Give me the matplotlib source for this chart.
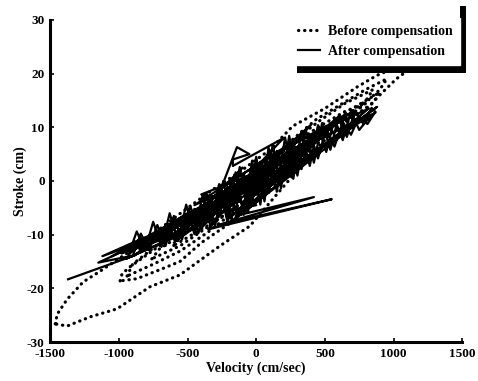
import matplotlib
matplotlib.use("Agg")
import matplotlib.pyplot as plt
from matplotlib.patches import Rectangle
from matplotlib.transforms import IdentityTransform

plt.rcParams['font.family'] = ['Liberation Serif', 'DejaVu Serif']
plt.rcParams['font.weight'] = 'bold'
plt.rcParams['axes.unicode_minus'] = False

# before compensation: several closed loops (velocity cm/sec, stroke cm)
loop1_v = [-1463, -1449, -1376, -1260, -1137, -897, -701, -556, -310, -115, 100, 265, 500, 735, 874, 1050, 1150,
           1100, 1020, 900, 825, 700, 550, 300, 100, -47, -265, -556, -774, -1013, -1209, -1376, -1463]
loop1_s = [-26.6, -24.8, -22.0, -18.8, -16.8, -12.7, -8.9, -6.1, -1.5, 1.8, 5.8, 10.2, 13.5, 17.5, 19.6, 21.5, 22.0,
           20.5, 19.0, 16.0, 14.0, 11.5, 9.0, 2.0, -4.0, -8.4, -12.1, -17.5, -19.7, -23.8, -25.3, -27.0, -26.6]

loop2_v = [-991, -977, -920, -700, -500, -300, -100, 100, 300, 439, 600, 802, 950,
           900, 750, 550, 350, 150, 0, -200, -400, -556, -700, -870, -991]
loop2_s = [-18.6, -17.3, -16.0, -12.0, -8.0, -4.0, 0.0, 4.0, 8.5, 11.5, 14.0, 17.1, 19.0,
           17.0, 13.5, 9.5, 4.5, 0.0, -3.5, -8.0, -11.5, -15.0, -16.5, -18.2, -18.6]

loop3_v = [-940, -900, -750, -550, -350, -150, 50, 250, 450, 650, 850,
           800, 650, 450, 250, 50, -150, -350, -550, -750, -940]
loop3_s = [-17.7, -15.5, -12.5, -9.0, -5.0, -1.0, 3.0, 7.0, 11.0, 14.5, 17.0,
           15.0, 12.0, 8.0, 3.5, -1.5, -5.5, -9.5, -13.0, -15.5, -17.7]

loop4_v = [-760, -700, -500, -300, -100, 100, 300, 500, 700, 900,
           850, 650, 450, 250, 50, -150, -350, -550, -760]
loop4_s = [-14.5, -12.5, -9.5, -6.0, -2.0, 2.0, 6.0, 10.0, 13.5, 16.5,
           14.5, 11.0, 7.5, 3.0, -1.0, -5.0, -8.5, -12.0, -14.5]

loop5_v = [-600, -550, -350, -150, 50, 250, 450, 650, 800,
           700, 500, 300, 100, -100, -300, -500, -600]
loop5_s = [-12.0, -9.5, -5.5, -1.5, 2.5, 6.5, 10.0, 13.0, 14.5,
           12.5, 9.0, 4.5, 0.0, -4.0, -7.5, -10.5, -12.0]

before_loops = [(loop1_v, loop1_s), (loop2_v, loop2_s), (loop3_v, loop3_s),
                (loop4_v, loop4_s), (loop5_v, loop5_s)]

# after compensation: one long scribbled trace (outliers first, then the dense core)
after_v = [-1370, -880, -1150, -750, -1120, -820, -600, -980, -500, -700, -200, -600, -100, -400, 100,
           -350, 550, -280, 420, -150, 300, -250, -140, -50, -170, -170, 200, -300, 400, -100,
           650, 100, 880, 300, 750, 0, 600, -200, 450, -550, 250, -700, 0, -850, -250,
           -650, 150, -400, 500, -50, 820, 200, 700, -100, 350, -500, -950, -300, -800, 50,
           -450, 250, -250, 600, -150, 450, -600, 100, -900, -350, -1050, -550, 0, -400, 350,
           -200, 700, 0, 850, 150,
           -900, -840, -780, -720, -660, -600, -540, -480, -420, -360, -300, -240, -180, -120, -60,
           0, 60, 120, 180, 240, 300, 360, 420, 480, 540, 600, 660, 720, 780, 840,
           870, 810, 750, 690, 630, 570, 510, 450, 390, 330, 270, 210, 150, 90, 30,
           -30, -90, -150, -210, -270, -330, -390, -450, -510, -570, -630, -690, -750, -810, -870, -930,
           -870, -810, -750, -690, -630, -570, -510, -450, -390, -330, -270, -210, -150, -90, -30,
           30, 90, 150, 210, 270, 330, 390, 450, 510, 570, 630, 690, 750, 810, 860]
after_s = [-18.3, -13.8, -15.2, -10.5, -14.0, -10.6, -9.8, -13.5, -6.0, -11.8, -2.0, -10.5, 2.5, -8.8, 5.0,
           -9.0, -3.4, -8.2, -3.0, -6.5, 7.5, -1.0, 6.3, 5.0, 4.0, 2.8, 8.0, -5.5, 10.5, -4.0,
           12.5, -1.0, 13.8, 3.0, 11.5, -2.5, 12.0, -7.0, 8.0, -9.0, 4.5, -10.0, 0.5, -12.8, -3.5,
           -11.0, 2.0, -7.5, 9.5, -5.0, 13.5, 6.0, 12.8, 0.0, 6.5, -9.5, -14.5, -7.0, -12.0, 1.5,
           -4.5, 7.0, -6.0, 11.0, -1.0, 8.5, -11.5, 3.5, -13.0, -4.0, -14.0, -7.5, -4.5, -2.5, 5.0,
           -8.0, 10.0, -1.5, 12.5, 4.0,
           -14.0, -9.8, -12.9, -8.2, -12.1, -6.5, -10.9, -4.6, -9.7, -2.4, -8.5, 0.0, -7.3, 2.6, -5.9,
           4.5, -3.8, 6.8, -1.4, 8.4, 1.0, 9.6, 3.4, 10.8, 5.8, 12.0, 8.2, 13.1, 10.6, 13.6,
           12.8, 11.4, 9.5, 12.9, 7.6, 11.6, 5.4, 10.4, 2.8, 9.3, 0.4, 8.1, -2.0, 6.2, -4.4,
           3.8, -6.3, 1.6, -7.6, -0.6, -8.8, -2.6, -9.9, -4.4, -11.2, -6.0, -12.3, -7.6, -12.9, -9.4, -13.8,
           -12.2, -10.6, -11.2, -8.8, -10.2, -7.2, -9.0, -5.2, -7.8, -3.4, -6.6, -1.0, -5.4, 1.4, -4.0,
           3.6, -2.2, 5.6, 0.2, 7.2, 2.2, 8.6, 4.2, 9.8, 6.4, 11.0, 8.6, 12.0, 10.6, 12.6]

xticks = [-1500, -1000, -500, 0, 500, 1000, 1500]
yticks = [-30, -20, -10, 0, 10, 20, 30]

fig = plt.figure(figsize=(4.78, 3.81), dpi=100)
ax = fig.add_axes([0.105, 0.102, 0.862, 0.846])

for i, (v, s) in enumerate(before_loops):
    ax.plot(v, s, color='black', linewidth=2.3, linestyle=(0, (0.1, 1.8)),
            dash_capstyle='round', label='Before compensation' if i == 0 else None)
ax.plot(after_v, after_s, color='black', linewidth=1.6, label='After compensation')

ax.set_xlim(-1500, 1500)
ax.set_ylim(-30, 30)
ax.set_xticks(xticks)
ax.set_yticks(yticks)
ax.tick_params(direction='in', length=3, width=1.2, labelsize=9.5)
ax.tick_params(axis='x', pad=4)
ax.tick_params(axis='y', pad=4)
for lab in ax.get_xticklabels() + ax.get_yticklabels():
    lab.set_fontweight('bold')
ax.spines['top'].set_visible(False)
ax.spines['right'].set_visible(False)
ax.spines['left'].set_linewidth(2.2)
ax.spines['bottom'].set_linewidth(2.2)
ax.set_xlabel('Velocity (cm/sec)', fontsize=10, fontweight='bold', labelpad=1)
ax.set_ylabel('Stroke (cm)', fontsize=10, fontweight='bold', labelpad=0)

leg = ax.legend(loc='upper right', bbox_to_anchor=(467 / 478, 1 - 11 / 381),
                bbox_transform=fig.transFigure, fontsize=10, frameon=True,
                fancybox=False, edgecolor='white', framealpha=1,
                handlelength=1.6, handletextpad=0.6, borderpad=0.5, labelspacing=0.5)
leg.set_zorder(10)
for t in leg.get_texts():
    t.set_fontweight('bold')

# black drop shadow behind the legend box (right and bottom edges)
fig.canvas.draw()
bb = leg.get_window_extent()
shadow = Rectangle((bb.x0 + 6, bb.y0 - 8), bb.width, bb.height + 20, transform=IdentityTransform(),
                   facecolor='black', edgecolor='none', zorder=9, clip_on=False)
ax.add_artist(shadow)
# white box reaching up toward the top edge, like the scanned legend frame
box = Rectangle((bb.x0, bb.y0), bb.width, bb.height + 20, transform=IdentityTransform(),
                facecolor='white', edgecolor='none', zorder=9.5, clip_on=False)
ax.add_artist(box)

fig.savefig('out.png', dpi=100)
